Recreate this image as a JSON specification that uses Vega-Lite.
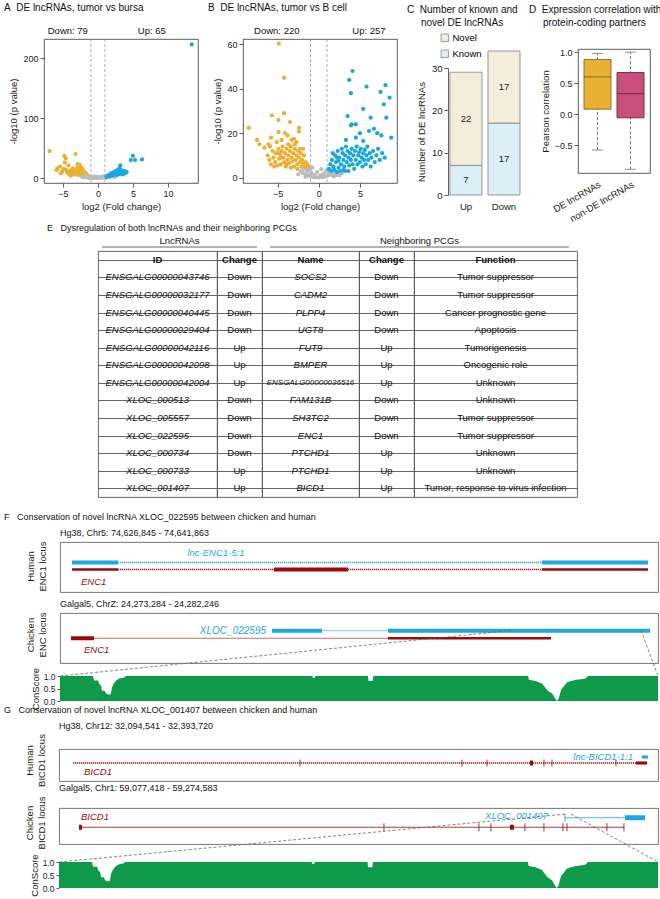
{
"$schema": "https://vega.github.io/schema/vega-lite/v6.json",
"background": "white",
"padding": {"left": 3, "top": 2, "right": 0, "bottom": 0},
"bounds": "flush",
"spacing": 0,
"resolve": {"scale": {"color": "independent", "fill": "independent", "stroke": "independent", "strokeWidth": "independent", "size": "independent"}},
"config": {
  "font": "Liberation Sans",
  "view": {"stroke": null},
  "axis": {"labelFont": "Liberation Sans", "titleFont": "Liberation Sans", "labelFontSize": 9, "titleFontSize": 9.5, "titleFontWeight": "normal", "labelColor": "#1a1a1a", "titleColor": "#1a1a1a", "tickColor": "#333", "domainColor": "#333", "tickSize": 4, "tickWidth": 0.8, "domainWidth": 0.8, "grid": false, "labelPadding": 2, "labelOverlap": false, "labelAngle": 0},
  "title": {"anchor": "start", "frame": "group", "font": "Liberation Sans", "fontSize": 10, "fontWeight": "normal", "color": "#111", "lineHeight": 13},
  "text": {"font": "Liberation Sans"},
  "legend": {"labelFont": "Liberation Sans"}
},
"datasets": {
  "volcA": [
    {"lfc":-6.9,"nlp":45,"status":"Down"},{"lfc":-4.8,"nlp":37,"status":"Down"},{"lfc":-3.2,"nlp":40,"status":"Down"},{"lfc":-4.6,"nlp":33,"status":"Down"},{"lfc":-4.7,"nlp":26,"status":"Down"},{"lfc":-4.2,"nlp":21,"status":"Down"},{"lfc":-2.9,"nlp":23,"status":"Down"},{"lfc":-2.6,"nlp":22,"status":"Down"},{"lfc":-5.4,"nlp":19,"status":"Down"},{"lfc":-2.4,"nlp":18,"status":"Down"},{"lfc":-3.0,"nlp":17,"status":"Down"},{"lfc":-2.2,"nlp":15,"status":"Down"},{"lfc":-3.6,"nlp":16,"status":"Down"},{"lfc":-4.9,"nlp":15,"status":"Down"},{"lfc":-5.8,"nlp":16,"status":"Down"},{"lfc":-4.0,"nlp":12,"status":"Down"},{"lfc":-3.3,"nlp":12,"status":"Down"},{"lfc":-2.7,"nlp":13,"status":"Down"},{"lfc":-2.1,"nlp":11,"status":"Down"},{"lfc":-1.8,"nlp":9,"status":"Down"},{"lfc":-3.8,"nlp":9,"status":"Down"},{"lfc":-4.4,"nlp":10,"status":"Down"},{"lfc":-5.1,"nlp":11,"status":"Down"},{"lfc":-2.5,"nlp":8,"status":"Down"},{"lfc":-3.1,"nlp":7,"status":"Down"},{"lfc":-1.6,"nlp":6,"status":"Down"},{"lfc":-2.0,"nlp":5,"status":"Down"},{"lfc":-1.4,"nlp":3,"status":"Down"},{"lfc":-4.6,"nlp":14,"status":"Down"},{"lfc":-3.5,"nlp":6,"status":"Down"},{"lfc":-2.8,"nlp":5,"status":"Down"},{"lfc":-1.5,"nlp":4,"status":"Down"},{"lfc":-2.3,"nlp":4,"status":"Down"},{"lfc":-5.9,"nlp":13,"status":"Down"},{"lfc":-3.9,"nlp":4,"status":"Down"},{"lfc":-2.6,"nlp":10,"status":"Down"},{"lfc":-3.4,"nlp":9,"status":"Down"},{"lfc":-1.9,"nlp":7,"status":"Down"},{"lfc":-2.9,"nlp":9,"status":"Down"},{"lfc":-4.2,"nlp":7,"status":"Down"},{"lfc":-5.3,"nlp":8,"status":"Down"},{"lfc":-3.7,"nlp":13,"status":"Down"},{"lfc":-2.4,"nlp":11,"status":"Down"},{"lfc":-1.7,"nlp":5,"status":"Down"},
    {"lfc":-1.9,"nlp":3,"status":"NS"},{"lfc":-1.5,"nlp":2.2,"status":"NS"},{"lfc":-1.2,"nlp":1.6,"status":"NS"},{"lfc":-0.9,"nlp":1.1,"status":"NS"},{"lfc":-0.6,"nlp":0.6,"status":"NS"},{"lfc":-0.3,"nlp":0.3,"status":"NS"},{"lfc":0,"nlp":0.1,"status":"NS"},{"lfc":0.3,"nlp":0.2,"status":"NS"},{"lfc":0.6,"nlp":0.6,"status":"NS"},{"lfc":0.9,"nlp":1,"status":"NS"},{"lfc":1.2,"nlp":1.5,"status":"NS"},{"lfc":1.5,"nlp":2,"status":"NS"},{"lfc":1.8,"nlp":2.6,"status":"NS"},{"lfc":2.1,"nlp":3,"status":"NS"},{"lfc":-1.7,"nlp":1,"status":"NS"},{"lfc":-1.3,"nlp":0.5,"status":"NS"},{"lfc":-0.8,"nlp":0.3,"status":"NS"},{"lfc":-0.4,"nlp":1.2,"status":"NS"},{"lfc":0.2,"nlp":0.8,"status":"NS"},{"lfc":0.5,"nlp":1.5,"status":"NS"},{"lfc":1.0,"nlp":2.4,"status":"NS"},{"lfc":1.4,"nlp":0.8,"status":"NS"},{"lfc":-1.0,"nlp":2.8,"status":"NS"},{"lfc":-0.2,"nlp":2,"status":"NS"},{"lfc":0.7,"nlp":2.8,"status":"NS"},{"lfc":1.6,"nlp":1.2,"status":"NS"},{"lfc":-2.2,"nlp":1.5,"status":"NS"},{"lfc":2.4,"nlp":1.8,"status":"NS"},{"lfc":-0.5,"nlp":2.5,"status":"NS"},{"lfc":0.1,"nlp":1.8,"status":"NS"},{"lfc":1.1,"nlp":0.4,"status":"NS"},{"lfc":-1.1,"nlp":0.2,"status":"NS"},
    {"lfc":13.4,"nlp":223,"status":"Up"},{"lfc":5.0,"nlp":37,"status":"Up"},{"lfc":4.7,"nlp":30,"status":"Up"},{"lfc":5.3,"nlp":30,"status":"Up"},{"lfc":6.3,"nlp":31,"status":"Up"},{"lfc":3.2,"nlp":21,"status":"Up"},{"lfc":3.1,"nlp":16,"status":"Up"},{"lfc":2.9,"nlp":14,"status":"Up"},{"lfc":3.3,"nlp":13,"status":"Up"},{"lfc":3.6,"nlp":12,"status":"Up"},{"lfc":3.9,"nlp":11,"status":"Up"},{"lfc":2.7,"nlp":11,"status":"Up"},{"lfc":3.0,"nlp":10,"status":"Up"},{"lfc":3.4,"nlp":9,"status":"Up"},{"lfc":2.4,"nlp":9,"status":"Up"},{"lfc":2.8,"nlp":8,"status":"Up"},{"lfc":3.8,"nlp":8,"status":"Up"},{"lfc":2.1,"nlp":7,"status":"Up"},{"lfc":2.5,"nlp":6,"status":"Up"},{"lfc":3.2,"nlp":7,"status":"Up"},{"lfc":1.8,"nlp":6,"status":"Up"},{"lfc":2.2,"nlp":5,"status":"Up"},{"lfc":1.6,"nlp":4,"status":"Up"},{"lfc":2.0,"nlp":4,"status":"Up"},{"lfc":1.3,"nlp":3,"status":"Up"},{"lfc":1.7,"nlp":3,"status":"Up"},{"lfc":2.7,"nlp":5,"status":"Up"},{"lfc":3.6,"nlp":6,"status":"Up"},{"lfc":4.0,"nlp":9,"status":"Up"},{"lfc":2.6,"nlp":12,"status":"Up"},{"lfc":2.3,"nlp":10,"status":"Up"},{"lfc":1.5,"nlp":5,"status":"Up"},{"lfc":1.2,"nlp":2,"status":"Up"},{"lfc":1.9,"nlp":8,"status":"Up"},{"lfc":3.5,"nlp":10,"status":"Up"},{"lfc":4.1,"nlp":10,"status":"Up"},{"lfc":2.9,"nlp":6,"status":"Up"},{"lfc":3.7,"nlp":9,"status":"Up"}
  ],
  "volcB": [
    {"lfc":-4.85,"nlp":60.3,"status":"Down"},{"lfc":-4.2,"nlp":45,"status":"Down"},{"lfc":-8.5,"nlp":22.4,"status":"Down"},{"lfc":-5.7,"nlp":28,"status":"Down"},{"lfc":-4.9,"nlp":26,"status":"Down"},{"lfc":-4.2,"nlp":29,"status":"Down"},{"lfc":-3.5,"nlp":25,"status":"Down"},{"lfc":-2.4,"nlp":22.5,"status":"Down"},{"lfc":-2.4,"nlp":20.8,"status":"Down"},{"lfc":-7.5,"nlp":17,"status":"Down"},{"lfc":-7.2,"nlp":15,"status":"Down"},{"lfc":-6.6,"nlp":13.5,"status":"Down"},{"lfc":-6.1,"nlp":15,"status":"Down"},{"lfc":-5.8,"nlp":18,"status":"Down"},{"lfc":-4.9,"nlp":20.5,"status":"Down"},{"lfc":-4.1,"nlp":20,"status":"Down"},{"lfc":-3.0,"nlp":17.5,"status":"Down"},{"lfc":-1.9,"nlp":13,"status":"Down"},{"lfc":-4.5,"nlp":17,"status":"Down"},{"lfc":-3.3,"nlp":17,"status":"Down"},{"lfc":-2.7,"nlp":16,"status":"Down"},{"lfc":-5.1,"nlp":16,"status":"Down"},{"lfc":-3.8,"nlp":19,"status":"Down"},
    {"lfc":-6.2,"nlp":10,"status":"Down"},{"lfc":-6.0,"nlp":8,"status":"Down"},{"lfc":-5.8,"nlp":6,"status":"Down"},{"lfc":-5.6,"nlp":12,"status":"Down"},{"lfc":-5.5,"nlp":9,"status":"Down"},{"lfc":-5.3,"nlp":7,"status":"Down"},{"lfc":-5.2,"nlp":11,"status":"Down"},{"lfc":-5.0,"nlp":5.5,"status":"Down"},{"lfc":-4.9,"nlp":13,"status":"Down"},{"lfc":-4.8,"nlp":8.5,"status":"Down"},{"lfc":-4.7,"nlp":10.5,"status":"Down"},{"lfc":-4.6,"nlp":6,"status":"Down"},{"lfc":-4.5,"nlp":12,"status":"Down"},{"lfc":-4.4,"nlp":14,"status":"Down"},{"lfc":-4.3,"nlp":9,"status":"Down"},{"lfc":-4.2,"nlp":7,"status":"Down"},{"lfc":-4.1,"nlp":11,"status":"Down"},{"lfc":-4.0,"nlp":5,"status":"Down"},{"lfc":-3.9,"nlp":13,"status":"Down"},{"lfc":-3.8,"nlp":8,"status":"Down"},{"lfc":-3.7,"nlp":10,"status":"Down"},{"lfc":-3.6,"nlp":6.5,"status":"Down"},{"lfc":-3.5,"nlp":12,"status":"Down"},{"lfc":-3.4,"nlp":14,"status":"Down"},{"lfc":-3.3,"nlp":9,"status":"Down"},{"lfc":-3.2,"nlp":7.5,"status":"Down"},{"lfc":-3.1,"nlp":11,"status":"Down"},{"lfc":-3.0,"nlp":5,"status":"Down"},{"lfc":-2.9,"nlp":13,"status":"Down"},{"lfc":-2.8,"nlp":8,"status":"Down"},{"lfc":-2.7,"nlp":10,"status":"Down"},{"lfc":-2.6,"nlp":6,"status":"Down"},{"lfc":-2.5,"nlp":12,"status":"Down"},{"lfc":-2.4,"nlp":9,"status":"Down"},{"lfc":-2.3,"nlp":7,"status":"Down"},{"lfc":-2.2,"nlp":11,"status":"Down"},{"lfc":-2.1,"nlp":5,"status":"Down"},{"lfc":-2.0,"nlp":8,"status":"Down"},{"lfc":-1.9,"nlp":6.5,"status":"Down"},{"lfc":-1.8,"nlp":10,"status":"Down"},{"lfc":-1.7,"nlp":5,"status":"Down"},{"lfc":-1.6,"nlp":7,"status":"Down"},{"lfc":-1.5,"nlp":4.5,"status":"Down"},{"lfc":-1.4,"nlp":6,"status":"Down"},{"lfc":-1.3,"nlp":4,"status":"Down"},{"lfc":-1.2,"nlp":5,"status":"Down"},{"lfc":-3.9,"nlp":6,"status":"Down"},{"lfc":-4.6,"nlp":9,"status":"Down"},{"lfc":-5.4,"nlp":5,"status":"Down"},{"lfc":-3.4,"nlp":4.5,"status":"Down"},{"lfc":-2.6,"nlp":4,"status":"Down"},{"lfc":-4.9,"nlp":11,"status":"Down"},{"lfc":-5.9,"nlp":14,"status":"Down"},{"lfc":-3.7,"nlp":15,"status":"Down"},{"lfc":-2.3,"nlp":13,"status":"Down"},{"lfc":-2.9,"nlp":15,"status":"Down"},
    {"lfc":-2.2,"nlp":3,"status":"NS"},{"lfc":-1.9,"nlp":2,"status":"NS"},{"lfc":-1.6,"nlp":1.5,"status":"NS"},{"lfc":-1.3,"nlp":1,"status":"NS"},{"lfc":-1.0,"nlp":0.5,"status":"NS"},{"lfc":-0.7,"nlp":0.3,"status":"NS"},{"lfc":-0.4,"nlp":0.2,"status":"NS"},{"lfc":0,"nlp":0.1,"status":"NS"},{"lfc":0.4,"nlp":0.2,"status":"NS"},{"lfc":0.7,"nlp":0.4,"status":"NS"},{"lfc":1.0,"nlp":0.8,"status":"NS"},{"lfc":1.3,"nlp":1.2,"status":"NS"},{"lfc":1.6,"nlp":1.5,"status":"NS"},{"lfc":1.9,"nlp":2,"status":"NS"},{"lfc":2.2,"nlp":1.2,"status":"NS"},{"lfc":2.5,"nlp":1,"status":"NS"},{"lfc":-1.8,"nlp":4,"status":"NS"},{"lfc":-1.4,"nlp":3,"status":"NS"},{"lfc":-0.9,"nlp":2,"status":"NS"},{"lfc":-0.5,"nlp":1.2,"status":"NS"},{"lfc":0.2,"nlp":1,"status":"NS"},{"lfc":0.6,"nlp":1.8,"status":"NS"},{"lfc":1.1,"nlp":2.5,"status":"NS"},{"lfc":-1.1,"nlp":3.5,"status":"NS"},{"lfc":-0.2,"nlp":2.5,"status":"NS"},{"lfc":0.9,"nlp":3.2,"status":"NS"},{"lfc":1.5,"nlp":4,"status":"NS"},{"lfc":-2.5,"nlp":1.5,"status":"NS"},{"lfc":2.8,"nlp":2,"status":"NS"},{"lfc":-0.8,"nlp":4.5,"status":"NS"},{"lfc":0.3,"nlp":3.8,"status":"NS"},{"lfc":1.8,"nlp":0.6,"status":"NS"},{"lfc":-1.6,"nlp":0.4,"status":"NS"},
    {"lfc":4.1,"nlp":48,"status":"Up"},{"lfc":3.7,"nlp":44,"status":"Up"},{"lfc":3.9,"nlp":38,"status":"Up"},{"lfc":5.8,"nlp":41,"status":"Up"},{"lfc":7.5,"nlp":38.6,"status":"Up"},{"lfc":8.1,"nlp":41.6,"status":"Up"},{"lfc":8.6,"nlp":36,"status":"Up"},{"lfc":7.9,"nlp":33,"status":"Up"},{"lfc":5.4,"nlp":31,"status":"Up"},{"lfc":6.3,"nlp":27,"status":"Up"},{"lfc":4.5,"nlp":24,"status":"Up"},{"lfc":4.0,"nlp":24,"status":"Up"},{"lfc":8.8,"nlp":18,"status":"Up"},{"lfc":7.6,"nlp":19,"status":"Up"},{"lfc":7.1,"nlp":20,"status":"Up"},{"lfc":6.1,"nlp":21,"status":"Up"},{"lfc":5.0,"nlp":20,"status":"Up"},{"lfc":3.5,"nlp":27.7,"status":"Up"},{"lfc":3.3,"nlp":17,"status":"Up"},{"lfc":4.5,"nlp":18,"status":"Up"},{"lfc":5.4,"nlp":16.5,"status":"Up"},{"lfc":3.9,"nlp":23.5,"status":"Up"},{"lfc":6.7,"nlp":22,"status":"Up"},{"lfc":8.2,"nlp":27,"status":"Up"},
    {"lfc":1.2,"nlp":4,"status":"Up"},{"lfc":1.4,"nlp":6,"status":"Up"},{"lfc":1.6,"nlp":8,"status":"Up"},{"lfc":1.8,"nlp":5,"status":"Up"},{"lfc":2.0,"nlp":10,"status":"Up"},{"lfc":2.1,"nlp":7,"status":"Up"},{"lfc":2.3,"nlp":12,"status":"Up"},{"lfc":2.4,"nlp":4.5,"status":"Up"},{"lfc":2.5,"nlp":9,"status":"Up"},{"lfc":2.7,"nlp":6,"status":"Up"},{"lfc":2.8,"nlp":13,"status":"Up"},{"lfc":2.9,"nlp":11,"status":"Up"},{"lfc":3.0,"nlp":8,"status":"Up"},{"lfc":3.1,"nlp":5,"status":"Up"},{"lfc":3.2,"nlp":10,"status":"Up"},{"lfc":3.3,"nlp":14,"status":"Up"},{"lfc":3.4,"nlp":7,"status":"Up"},{"lfc":3.5,"nlp":12,"status":"Up"},{"lfc":3.6,"nlp":9,"status":"Up"},{"lfc":3.7,"nlp":5.5,"status":"Up"},{"lfc":3.8,"nlp":11,"status":"Up"},{"lfc":3.9,"nlp":8,"status":"Up"},{"lfc":4.0,"nlp":13,"status":"Up"},{"lfc":4.1,"nlp":6,"status":"Up"},{"lfc":4.2,"nlp":10,"status":"Up"},{"lfc":4.3,"nlp":4,"status":"Up"},{"lfc":4.4,"nlp":12,"status":"Up"},{"lfc":4.5,"nlp":8,"status":"Up"},{"lfc":4.6,"nlp":14,"status":"Up"},{"lfc":4.7,"nlp":6,"status":"Up"},{"lfc":4.8,"nlp":10,"status":"Up"},{"lfc":4.9,"nlp":11.5,"status":"Up"},{"lfc":5.0,"nlp":7,"status":"Up"},{"lfc":5.1,"nlp":13,"status":"Up"},{"lfc":5.2,"nlp":9,"status":"Up"},{"lfc":5.3,"nlp":5,"status":"Up"},{"lfc":5.4,"nlp":11,"status":"Up"},{"lfc":5.5,"nlp":8,"status":"Up"},{"lfc":5.6,"nlp":12.5,"status":"Up"},{"lfc":5.7,"nlp":6,"status":"Up"},{"lfc":5.8,"nlp":10,"status":"Up"},{"lfc":5.9,"nlp":14,"status":"Up"},{"lfc":6.0,"nlp":8,"status":"Up"},{"lfc":6.2,"nlp":11,"status":"Up"},{"lfc":6.3,"nlp":5,"status":"Up"},{"lfc":6.4,"nlp":9,"status":"Up"},{"lfc":6.6,"nlp":12,"status":"Up"},{"lfc":6.8,"nlp":7,"status":"Up"},{"lfc":7.0,"nlp":10,"status":"Up"},{"lfc":7.2,"nlp":13,"status":"Up"},{"lfc":7.4,"nlp":8,"status":"Up"},{"lfc":7.7,"nlp":11,"status":"Up"},{"lfc":8.0,"nlp":9,"status":"Up"},{"lfc":1.5,"nlp":3,"status":"Up"},{"lfc":1.9,"nlp":3.5,"status":"Up"},{"lfc":2.2,"nlp":2.5,"status":"Up"},{"lfc":2.6,"nlp":3,"status":"Up"},{"lfc":3.0,"nlp":3.5,"status":"Up"},{"lfc":3.6,"nlp":3,"status":"Up"},{"lfc":2.4,"nlp":7.5,"status":"Up"},{"lfc":2.2,"nlp":9,"status":"Up"},{"lfc":1.7,"nlp":11,"status":"Up"},{"lfc":3.2,"nlp":3,"status":"Up"}
  ],
  "kn": [
    {"dir":"Up","type":"Known","n":7},{"dir":"Up","type":"Novel","n":22},
    {"dir":"Down","type":"Known","n":17},{"dir":"Down","type":"Novel","n":17}
  ],
  "corr": [
    {"grp":"DE lncRNAs","lower":-0.58,"q1":0.08,"median":0.6,"q3":0.88,"upper":0.98},
    {"grp":"non-DE lncRNAs","lower":-0.89,"q1":-0.06,"median":0.33,"q3":0.67,"upper":1.0}
  ],
  "tbl": [
    {"n":1,"id":"ENSGALG00000043746","lc":"Down","name":"SOCS2","pc":"Down","fn":"Tumor suppressor"},
    {"n":2,"id":"ENSGALG00000032177","lc":"Down","name":"CADM2","pc":"Down","fn":"Tumor suppressor"},
    {"n":3,"id":"ENSGALG00000040445","lc":"Down","name":"PLPP4","pc":"Down","fn":"Cancer prognostic gene"},
    {"n":4,"id":"ENSGALG00000029404","lc":"Down","name":"UGT8","pc":"Down","fn":"Apoptosis"},
    {"n":5,"id":"ENSGALG00000042116","lc":"Up","name":"FUT9","pc":"Up","fn":"Tumorigenesis"},
    {"n":6,"id":"ENSGALG00000042098","lc":"Up","name":"BMPER","pc":"Up","fn":"Oncogenic role"},
    {"n":7,"id":"ENSGALG00000042004","lc":"Up","name":"ENSGALG00000036516","pc":"Up","fn":"Unknown"},
    {"n":8,"id":"XLOC_000513","lc":"Down","name":"FAM131B","pc":"Down","fn":"Unknown"},
    {"n":9,"id":"XLOC_005557","lc":"Down","name":"SH3TC2","pc":"Down","fn":"Tumor suppressor"},
    {"n":10,"id":"XLOC_022595","lc":"Down","name":"ENC1","pc":"Down","fn":"Tumor suppressor"},
    {"n":11,"id":"XLOC_000734","lc":"Down","name":"PTCHD1","pc":"Up","fn":"Unknown"},
    {"n":12,"id":"XLOC_000733","lc":"Up","name":"PTCHD1","pc":"Up","fn":"Unknown"},
    {"n":13,"id":"XLOC_001407","lc":"Up","name":"BICD1","pc":"Up","fn":"Tumor, response to virus infection"}
  ],
  "fH": [
    {"track":"lnc","kind":"intron","start":74628044,"end":74639098},
    {"track":"pcg","kind":"intron","start":74628044,"end":74639098},
    {"track":"lnc","kind":"exon","start":74626845,"end":74628044},
    {"track":"lnc","kind":"exon","start":74639098,"end":74641863},
    {"track":"pcg","kind":"utr","start":74626845,"end":74628044},
    {"track":"pcg","kind":"exon","start":74632111,"end":74634040},
    {"track":"pcg","kind":"utr","start":74639098,"end":74641863}
  ],
  "fHL": [
    {"track":"lnc","label":"lnc-ENC1-5:1","at":74630599},
    {"track":"pcg","label":"ENC1","at":74627080}
  ],
  "fC": [
    {"track":"lnc","kind":"intron","start":24277169,"end":24278190},
    {"track":"pcg","kind":"intron","start":24273640,"end":24278190},
    {"track":"lnc","kind":"exon","start":24276395,"end":24277169},
    {"track":"lnc","kind":"exon","start":24278190,"end":24282246},
    {"track":"pcg","kind":"exon","start":24273284,"end":24273640},
    {"track":"pcg","kind":"utr","start":24278190,"end":24280714}
  ],
  "fCL": [
    {"track":"lnc","label":"XLOC_022595","at":24276303},
    {"track":"pcg","label":"ENC1","at":24273485}
  ],
  "fZ": [
    {"from":24280095,"to":24273114},
    {"from":24282108,"to":24282370}
  ],
  "gH": [
    {"track":"pcg","kind":"intron","start":32094541,"end":32393720},
    {"track":"pcg","kind":"tick","start":32212853,"end":32212853},
    {"track":"pcg","kind":"tick","start":32297288,"end":32297288},
    {"track":"pcg","kind":"tick","start":32310318,"end":32310318},
    {"track":"pcg","kind":"tick","start":32340026,"end":32340026},
    {"track":"pcg","kind":"tick","start":32344196,"end":32344196},
    {"track":"pcg","kind":"tick","start":32377552,"end":32377552},
    {"track":"pcg","kind":"exon","start":32332729,"end":32334293},
    {"track":"pcg","kind":"utr","start":32387987,"end":32393720},
    {"track":"lnc","kind":"utr","start":32391000,"end":32394200}
  ],
  "gHL": [
    {"track":"lnc","label":"lnc-BICD1-1:1","at":32386413},
    {"track":"pcg","label":"BICD1","at":32100274}
  ],
  "gC": [
    {"track":"pcg","kind":"intron","start":59077418,"end":59267241},
    {"track":"lnc","kind":"intron","start":59246692,"end":59267589},
    {"track":"pcg","kind":"exon","start":59077418,"end":59078463},
    {"track":"pcg","kind":"exon","start":59227535,"end":59228928},
    {"track":"pcg","kind":"tick","start":59183650,"end":59183650},
    {"track":"pcg","kind":"tick","start":59216738,"end":59216738},
    {"track":"pcg","kind":"tick","start":59220918,"end":59220918},
    {"track":"pcg","kind":"tick","start":59232760,"end":59232760},
    {"track":"pcg","kind":"tick","start":59239378,"end":59239378},
    {"track":"pcg","kind":"tick","start":59245995,"end":59245995},
    {"track":"pcg","kind":"tick","start":59247388,"end":59247388},
    {"track":"pcg","kind":"tick","start":59261320,"end":59261320},
    {"track":"pcg","kind":"tick","start":59267241,"end":59267241},
    {"track":"lnc","kind":"tick","start":59246692,"end":59246692},
    {"track":"lnc","kind":"exon","start":59267589,"end":59274583}
  ],
  "gCL": [
    {"track":"lnc","label":"XLOC_001407","at":59240765},
    {"track":"pcg","label":"BICD1","at":59078115}
  ],
  "gZ": [
    {"from":59246692,"to":59070452},
    {"from":59248782,"to":59279111}
  ],
  "cons": [
    {"p":0,"s":1},{"p":5.5,"s":1},{"p":5.7,"s":0.82},{"p":6.4,"s":0.82},{"p":6.5,"s":0.7},{"p":6.9,"s":0.6},{"p":7.0,"s":0.42},{"p":7.5,"s":0.4},{"p":7.7,"s":0.3},{"p":8.2,"s":0.25},{"p":8.5,"s":0.28},{"p":8.7,"s":0.55},{"p":9.0,"s":0.7},{"p":9.4,"s":0.82},{"p":9.9,"s":0.9},{"p":10.4,"s":0.92},{"p":10.9,"s":0.96},{"p":11.0,"s":1},
    {"p":42.2,"s":1},{"p":42.3,"s":0.92},{"p":42.6,"s":0.92},{"p":42.7,"s":1},
    {"p":51.5,"s":1},{"p":51.6,"s":0.8},{"p":52.3,"s":0.8},{"p":52.4,"s":1},
    {"p":78.3,"s":1},{"p":78.4,"s":0.85},{"p":79.5,"s":0.8},{"p":80.6,"s":0.7},{"p":81.1,"s":0.55},{"p":81.6,"s":0.4},{"p":82.3,"s":0.3},{"p":82.8,"s":0.1},{"p":83.1,"s":0},{"p":83.4,"s":0.1},{"p":83.8,"s":0.45},{"p":84.3,"s":0.6},{"p":84.8,"s":0.75},{"p":85.5,"s":0.8},{"p":86.3,"s":0.85},{"p":87.1,"s":0.87},{"p":87.9,"s":0.9},{"p":88.3,"s":1},{"p":100,"s":1}
  ]
},
"vconcat": [
  {
    "hconcat": [
      {
        "width": 154, "height": 144,
        "view": {"stroke": "#333", "strokeWidth": 0.8},
        "title": {"text": "A\u00a0\u00a0DE lncRNAs, tumor vs bursa", "dx": -40, "offset": 13},
        "layer": [
          {"data": {"values": [{}]}, "mark": {"type": "rule", "color": "#999", "strokeDash": [3, 2], "strokeWidth": 0.8}, "encoding": {"x": {"datum": -1}}},
          {"data": {"values": [{}]}, "mark": {"type": "rule", "color": "#999", "strokeDash": [3, 2], "strokeWidth": 0.8}, "encoding": {"x": {"datum": 1}}},
          {"data": {"name": "volcA"}, "mark": {"type": "circle", "size": 18, "opacity": 1},
           "encoding": {
             "x": {"field": "lfc", "type": "quantitative", "scale": {"domain": [-7.7, 14.3], "nice": false, "zero": false}, "axis": {"values": [-5, 0, 5, 10], "title": "log2 (Fold change)", "domain": false, "titlePadding": 3}},
             "y": {"field": "nlp", "type": "quantitative", "scale": {"domain": [-8.3, 232], "nice": false, "zero": false}, "axis": {"values": [0, 50, 100, 150, 200], "title": "-log10 (p value)", "domain": false, "titlePadding": 4}},
             "color": {"field": "status", "type": "nominal", "scale": {"domain": ["Down", "NS", "Up"], "range": ["#E9B031", "#BBBBBF", "#1CA6E0"]}, "legend": null}
           }},
          {"data": {"values": [{}]}, "mark": {"type": "text", "fontSize": 9.5, "color": "#111"}, "encoding": {"x": {"datum": -4.3}, "y": {"datum": 245}, "text": {"value": "Down: 79"}}},
          {"data": {"values": [{}]}, "mark": {"type": "text", "fontSize": 9.5, "color": "#111"}, "encoding": {"x": {"datum": 7.7}, "y": {"datum": 245}, "text": {"value": "Up: 65"}}}
        ]
      },
      {"width": 45, "height": 1, "data": {"values": []}, "mark": "point"},
      {
        "width": 154, "height": 144,
        "view": {"stroke": "#333", "strokeWidth": 0.8},
        "title": {"text": "B\u00a0\u00a0DE lncRNAs, tumor vs B cell", "dx": -35, "offset": 13},
        "layer": [
          {"data": {"values": [{}]}, "mark": {"type": "rule", "color": "#999", "strokeDash": [3, 2], "strokeWidth": 0.8}, "encoding": {"x": {"datum": -1}}},
          {"data": {"values": [{}]}, "mark": {"type": "rule", "color": "#999", "strokeDash": [3, 2], "strokeWidth": 0.8}, "encoding": {"x": {"datum": 1}}},
          {"data": {"name": "volcB"}, "mark": {"type": "circle", "size": 18, "opacity": 1},
           "encoding": {
             "x": {"field": "lfc", "type": "quantitative", "scale": {"domain": [-9.2, 9.5], "nice": false, "zero": false}, "axis": {"values": [-5, 0, 5], "title": "log2 (Fold change)", "domain": false, "titlePadding": 3}},
             "y": {"field": "nlp", "type": "quantitative", "scale": {"domain": [-2.4, 62.4], "nice": false, "zero": false}, "axis": {"values": [0, 10, 20, 30, 40, 50, 60], "title": "-log10 (p value)", "domain": false, "titlePadding": 4}},
             "color": {"field": "status", "type": "nominal", "scale": {"domain": ["Down", "NS", "Up"], "range": ["#E9B031", "#BBBBBF", "#1CA6E0"]}, "legend": null}
           }},
          {"data": {"values": [{}]}, "mark": {"type": "text", "fontSize": 9.5, "color": "#111"}, "encoding": {"x": {"datum": -5.1}, "y": {"datum": 66}, "text": {"value": "Down: 220"}}},
          {"data": {"values": [{}]}, "mark": {"type": "text", "fontSize": 9.5, "color": "#111"}, "encoding": {"x": {"datum": 6.1}, "y": {"datum": 66}, "text": {"value": "Up: 257"}}}
        ]
      },
      {"width": 51, "height": 1, "data": {"values": []}, "mark": "point"},
      {
        "width": 79, "height": 156,
        "title": {"text": ["C\u00a0\u00a0Number of known and", "\u200b\u00a0\u00a0\u00a0\u00a0\u00a0novel DE lncRNAs"], "dx": -41, "offset": 5},
        "data": {"name": "kn"},
        "transform": [
          {"stack": "n", "groupby": ["dir"], "sort": [{"field": "type", "order": "ascending"}], "as": ["y0", "y1"]},
          {"calculate": "(datum.y0 + datum.y1) / 2", "as": "mid"}
        ],
        "encoding": {
          "x": {"field": "dir", "type": "nominal", "sort": ["Up", "Down"], "scale": {"paddingInner": 0.158, "paddingOuter": 0.1185, "align": 0.222}, "axis": {"title": null, "domain": false, "ticks": false, "labelPadding": 6, "labelFontSize": 9.5}}
        },
        "layer": [
          {"mark": {"type": "bar", "stroke": "#8C8C8C", "strokeWidth": 0.9},
           "encoding": {
             "y": {"field": "y0", "type": "quantitative", "scale": {"domain": [0, 30], "range": [156, 29], "nice": false}, "axis": {"values": [0, 5, 10, 15, 20, 25, 30], "title": "Number of DE lncRNAs", "titlePadding": 5, "labelFontSize": 9.5}},
             "y2": {"field": "y1"},
             "color": {"field": "type", "type": "nominal", "scale": {"domain": ["Novel", "Known"], "range": ["#F3EEDC", "#DCEEF6"]},
               "legend": {"title": null, "orient": "none", "legendX": -8, "legendY": -6, "symbolType": "square", "symbolSize": 55, "symbolStrokeColor": "#888", "symbolStrokeWidth": 0.8, "labelFontSize": 9.5, "rowPadding": 4, "labelOffset": 3}}
           }},
          {"mark": {"type": "text", "fontSize": 9.5, "color": "#222"},
           "encoding": {"y": {"field": "mid", "type": "quantitative"}, "text": {"field": "n", "type": "quantitative"}}}
        ]
      },
      {"width": 51, "height": 1, "data": {"values": []}, "mark": "point"},
      {
        "vconcat": [
          {"width": 1, "height": 10, "data": {"values": []}, "mark": "point"},
          {
            "width": 72, "height": 124,
            "view": {"stroke": "#333", "strokeWidth": 0.8},
            "title": {"text": ["D\u00a0\u00a0Expression correlation with", "\u200b\u00a0\u00a0\u00a0\u00a0\u00a0protein-coding partners"], "dx": -49, "offset": 20},
            "data": {"name": "corr"},
            "encoding": {
              "x": {"field": "grp", "type": "nominal", "sort": ["DE lncRNAs", "non-DE lncRNAs"], "scale": {"paddingInner": 0, "paddingOuter": 0.09}, "axis": {"title": null, "labelAngle": -30, "ticks": false, "domain": false, "labelPadding": 6, "labelFontSize": 9.5}}
            },
            "layer": [
              {"mark": {"type": "rule", "strokeDash": [3, 2], "color": "#555", "strokeWidth": 0.8},
               "encoding": {"y": {"field": "lower", "type": "quantitative", "scale": {"domain": [-0.95, 1.05], "nice": false, "zero": false}, "axis": {"values": [-0.5, 0, 0.5, 1], "format": ".1f", "title": "Pearson correlation", "titlePadding": 4, "domain": false}}, "y2": {"field": "upper"}}},
              {"mark": {"type": "tick", "size": 11, "thickness": 0.9, "color": "#555"}, "encoding": {"y": {"field": "lower", "type": "quantitative"}}},
              {"mark": {"type": "tick", "size": 11, "thickness": 0.9, "color": "#555"}, "encoding": {"y": {"field": "upper", "type": "quantitative"}}},
              {"mark": {"type": "bar", "size": 27, "strokeWidth": 0.9},
               "encoding": {"y": {"field": "q1", "type": "quantitative"}, "y2": {"field": "q3"},
                 "fill": {"field": "grp", "type": "nominal", "scale": {"domain": ["DE lncRNAs", "non-DE lncRNAs"], "range": ["#E9B133", "#C94F7D"]}, "legend": null},
                 "stroke": {"field": "grp", "type": "nominal", "scale": {"domain": ["DE lncRNAs", "non-DE lncRNAs"], "range": ["#8A6A1C", "#6E2141"]}, "legend": null}}},
              {"mark": {"type": "tick", "size": 27, "thickness": 1.1},
               "encoding": {"y": {"field": "median", "type": "quantitative"}, "color": {"field": "grp", "type": "nominal", "scale": {"domain": ["DE lncRNAs", "non-DE lncRNAs"], "range": ["#6B5016", "#5A1A35"]}, "legend": null}}}
            ]
          }
        ],
        "spacing": 0, "bounds": "flush"
      }
    ],
    "spacing": 0, "bounds": "flush",
    "resolve": {"scale": {"color": "independent", "fill": "independent", "stroke": "independent"}}
  },
  {"width": 1, "height": 196, "data": {"values": []}, "mark": "point"},
  {
    "title": {"text": "E\u00a0\u00a0\u00a0Dysregulation of both lncRNAs and their neighboring PCGs", "fontSize": 9, "dx": 3, "offset": 2},
    "vconcat": [
      {
        "hconcat": [
          {"width": 58, "height": 1, "data": {"values": []}, "mark": "point"},
          {"width": 155, "height": 12, "data": {"values": [{}]},
           "layer": [
             {"mark": {"type": "text", "fontSize": 9.5, "color": "#111"}, "encoding": {"text": {"value": "LncRNAs"}}},
             {"mark": {"type": "rule", "color": "#555", "strokeWidth": 0.9}, "encoding": {"y": {"datum": 0, "type": "quantitative", "scale": {"domain": [0, 1]}, "axis": null}}}
           ]},
          {"width": 13, "height": 1, "data": {"values": []}, "mark": "point"},
          {"width": 299, "height": 12, "data": {"values": [{}]},
           "layer": [
             {"mark": {"type": "text", "fontSize": 9.5, "color": "#111"}, "encoding": {"text": {"value": "Neighboring PCGs"}}},
             {"mark": {"type": "rule", "color": "#555", "strokeWidth": 0.9}, "encoding": {"y": {"datum": 0, "type": "quantitative", "scale": {"domain": [0, 1]}, "axis": null}}}
           ]}
        ],
        "spacing": 0, "bounds": "flush"
      },
      {"width": 1, "height": 16, "data": {"values": []}, "mark": "point"},
      {
        "hconcat": [
          {"width": 54, "height": 1, "data": {"values": []}, "mark": "point"},
          {"width": 119, "height": 246, "view": {"stroke": "#555", "strokeWidth": 0.9},
           "layer": [
             {"data": {"name": "tbl"}, "mark": {"type": "text", "fontSize": 9.5, "fontStyle": "italic", "color": "#111"},
              "encoding": {"y": {"field": "n", "type": "ordinal", "scale": {"domain": [0,1,2,3,4,5,6,7,8,9,10,11,12,13], "paddingInner": 0, "paddingOuter": 0}, "axis": {"grid": true, "bandPosition": 0, "gridColor": "#555", "gridWidth": 0.9, "labels": false, "ticks": false, "domain": false, "title": null}}, "text": {"field": "id"}}},
             {"data": {"values": [{}]}, "mark": {"type": "text", "fontSize": 9.5, "fontWeight": "bold", "color": "#111"}, "encoding": {"y": {"datum": 0, "type": "ordinal"}, "text": {"value": "ID"}}}
           ]},
          {"width": 45, "height": 246, "view": {"stroke": "#555", "strokeWidth": 0.9},
           "layer": [
             {"data": {"name": "tbl"}, "mark": {"type": "text", "fontSize": 9.5, "color": "#111"},
              "encoding": {"y": {"field": "n", "type": "ordinal", "scale": {"domain": [0,1,2,3,4,5,6,7,8,9,10,11,12,13], "paddingInner": 0, "paddingOuter": 0}, "axis": {"grid": true, "bandPosition": 0, "gridColor": "#555", "gridWidth": 0.9, "labels": false, "ticks": false, "domain": false, "title": null}}, "text": {"field": "lc"}}},
             {"data": {"values": [{}]}, "mark": {"type": "text", "fontSize": 9.5, "fontWeight": "bold", "color": "#111"}, "encoding": {"y": {"datum": 0, "type": "ordinal"}, "text": {"value": "Change"}}}
           ]},
          {"width": 97, "height": 246, "view": {"stroke": "#555", "strokeWidth": 0.9},
           "layer": [
             {"data": {"name": "tbl"}, "mark": {"type": "text", "fontStyle": "italic", "color": "#111"},
              "encoding": {"y": {"field": "n", "type": "ordinal", "scale": {"domain": [0,1,2,3,4,5,6,7,8,9,10,11,12,13], "paddingInner": 0, "paddingOuter": 0}, "axis": {"grid": true, "bandPosition": 0, "gridColor": "#555", "gridWidth": 0.9, "labels": false, "ticks": false, "domain": false, "title": null}}, "text": {"field": "name"},
                "size": {"condition": {"test": "length(datum.name) > 12", "value": 8}, "value": 9.5}}},
             {"data": {"values": [{}]}, "mark": {"type": "text", "fontSize": 9.5, "fontWeight": "bold", "color": "#111"}, "encoding": {"y": {"datum": 0, "type": "ordinal"}, "text": {"value": "Name"}}}
           ]},
          {"width": 55, "height": 246, "view": {"stroke": "#555", "strokeWidth": 0.9},
           "layer": [
             {"data": {"name": "tbl"}, "mark": {"type": "text", "fontSize": 9.5, "color": "#111"},
              "encoding": {"y": {"field": "n", "type": "ordinal", "scale": {"domain": [0,1,2,3,4,5,6,7,8,9,10,11,12,13], "paddingInner": 0, "paddingOuter": 0}, "axis": {"grid": true, "bandPosition": 0, "gridColor": "#555", "gridWidth": 0.9, "labels": false, "ticks": false, "domain": false, "title": null}}, "text": {"field": "pc"}}},
             {"data": {"values": [{}]}, "mark": {"type": "text", "fontSize": 9.5, "fontWeight": "bold", "color": "#111"}, "encoding": {"y": {"datum": 0, "type": "ordinal"}, "text": {"value": "Change"}}}
           ]},
          {"width": 163, "height": 246, "view": {"stroke": "#555", "strokeWidth": 0.9},
           "layer": [
             {"data": {"name": "tbl"}, "mark": {"type": "text", "fontSize": 9.5, "color": "#111"},
              "encoding": {"y": {"field": "n", "type": "ordinal", "scale": {"domain": [0,1,2,3,4,5,6,7,8,9,10,11,12,13], "paddingInner": 0, "paddingOuter": 0}, "axis": {"grid": true, "bandPosition": 0, "gridColor": "#555", "gridWidth": 0.9, "labels": false, "ticks": false, "domain": false, "title": null}}, "text": {"field": "fn"}}},
             {"data": {"values": [{}]}, "mark": {"type": "text", "fontSize": 9.5, "fontWeight": "bold", "color": "#111"}, "encoding": {"y": {"datum": 0, "type": "ordinal"}, "text": {"value": "Function"}}}
           ]}
        ],
        "spacing": 0, "bounds": "flush"
      }
    ],
    "spacing": 0, "bounds": "flush"
  },
  {"width": 1, "height": 307, "data": {"values": []}, "mark": "point"},
  {
    "title": {"text": "F\u00a0\u00a0\u00a0Conservation of novel lncRNA XLOC_022595 between chicken and human", "fontSize": 9, "dx": -40, "offset": 6},
    "hconcat": [
      {"width": 16, "height": 1, "data": {"values": []}, "mark": "point"},
      {
        "vconcat": [
          {
            "width": 598, "height": 50,
            "view": {"stroke": "#666", "strokeWidth": 0.9},
            "title": {"text": "Hg38, Chr5: 74,626,845 - 74,641,863", "fontSize": 9, "offset": 3},
            "layer": [
              {"data": {"name": "fH"}, "transform": [{"filter": "datum.kind == 'intron'"}],
               "mark": {"type": "rule", "strokeWidth": 1.6, "strokeDash": [1.2, 0.8]},
               "encoding": {
                 "x": {"field": "start", "type": "quantitative", "scale": {"domain": [74626532, 74642124], "nice": false, "zero": false}, "axis": null},
                 "x2": {"field": "end"},
                 "y": {"field": "track", "type": "nominal", "scale": {"type": "point", "domain": ["lnc", "pcg"], "range": [17, 31]}, "axis": {"title": ["Human", "ENC1 locus"], "labels": false, "ticks": false, "domain": false, "titlePadding": 13}},
                 "color": {"field": "track", "type": "nominal", "scale": {"domain": ["lnc", "pcg"], "range": ["#1EA7E1", "#9C0A0A"]}, "legend": null}
               }},
              {"data": {"name": "fH"}, "transform": [{"filter": "datum.kind != 'intron'"}],
               "mark": {"type": "rule"},
               "encoding": {
                 "x": {"field": "start", "type": "quantitative"}, "x2": {"field": "end"},
                 "y": {"field": "track", "type": "nominal"},
                 "color": {"field": "track", "type": "nominal"},
                 "strokeWidth": {"field": "kind", "type": "ordinal", "scale": {"domain": ["intron", "utr", "exon"], "range": [1.2, 4, 7]}, "legend": null}
               }},
              {"data": {"name": "fHL"}, "transform": [{"filter": "datum.track == 'lnc'"}],
               "mark": {"type": "text", "fontStyle": "italic", "fontSize": 9.5, "dy": -10, "align": "center"},
               "encoding": {"x": {"field": "at", "type": "quantitative"}, "y": {"field": "track", "type": "nominal"}, "text": {"field": "label"}, "color": {"field": "track", "type": "nominal"}}},
              {"data": {"name": "fHL"}, "transform": [{"filter": "datum.track == 'pcg'"}],
               "mark": {"type": "text", "fontStyle": "italic", "fontSize": 9.5, "dy": 12, "align": "left"},
               "encoding": {"x": {"field": "at", "type": "quantitative"}, "y": {"field": "track", "type": "nominal"}, "text": {"field": "label"}, "color": {"field": "track", "type": "nominal"}}}
            ]
          },
          {"width": 1, "height": 21, "data": {"values": []}, "mark": "point"},
          {
            "width": 598, "height": 50,
            "view": {"stroke": "#666", "strokeWidth": 0.9},
            "title": {"text": "Galgal5, ChrZ: 24,273,284 - 24,282,246", "fontSize": 9, "offset": 3},
            "resolve": {"scale": {"y": "independent"}},
            "layer": [
              {"layer": [
                {"data": {"name": "fC"}, "transform": [{"filter": "datum.kind == 'intron'"}],
                 "mark": {"type": "rule", "strokeWidth": 1.2, "opacity": 0.6},
                 "encoding": {
                   "x": {"field": "start", "type": "quantitative", "scale": {"domain": [24273114, 24282370], "nice": false, "zero": false}, "axis": null},
                   "x2": {"field": "end"},
                   "y": {"field": "track", "type": "nominal", "scale": {"type": "point", "domain": ["lnc", "pcg"], "range": [14, 29]}, "axis": {"title": ["Chicken", "ENC locus"], "labels": false, "ticks": false, "domain": false, "titlePadding": 13}},
                   "color": {"field": "track", "type": "nominal", "scale": {"domain": ["lnc", "pcg"], "range": ["#1EA7E1", "#9C0A0A"]}, "legend": null}
                 }},
                {"data": {"name": "fC"}, "transform": [{"filter": "datum.kind != 'intron'"}],
                 "mark": {"type": "rule"},
                 "encoding": {
                   "x": {"field": "start", "type": "quantitative"}, "x2": {"field": "end"},
                   "y": {"field": "track", "type": "nominal"},
                   "color": {"field": "track", "type": "nominal"},
                   "strokeWidth": {"field": "kind", "type": "ordinal", "scale": {"domain": ["intron", "utr", "exon"], "range": [1.2, 4.5, 7]}, "legend": null}
                 }},
                {"data": {"name": "fCL"}, "transform": [{"filter": "datum.track == 'lnc'"}],
                 "mark": {"type": "text", "fontStyle": "italic", "fontSize": 10, "dy": 0, "align": "right"},
                 "encoding": {"x": {"field": "at", "type": "quantitative"}, "y": {"field": "track", "type": "nominal"}, "text": {"field": "label"}, "color": {"field": "track", "type": "nominal"}}},
                {"data": {"name": "fCL"}, "transform": [{"filter": "datum.track == 'pcg'"}],
                 "mark": {"type": "text", "fontStyle": "italic", "fontSize": 9.5, "dy": 12, "align": "left"},
                 "encoding": {"x": {"field": "at", "type": "quantitative"}, "y": {"field": "track", "type": "nominal"}, "text": {"field": "label"}, "color": {"field": "track", "type": "nominal"}}}
              ]},
              {"data": {"name": "fZ"},
               "mark": {"type": "rule", "strokeDash": [3, 2], "color": "#666", "strokeWidth": 0.8},
               "encoding": {"x": {"field": "from", "type": "quantitative"}, "x2": {"field": "to"}, "y": {"datum": 0.65, "type": "quantitative", "scale": {"domain": [0, 1]}, "axis": null}, "y2": {"datum": -0.26}}}
            ]
          },
          {"width": 1, "height": 13, "data": {"values": []}, "mark": "point"},
          {
            "width": 598, "height": 25,
            "data": {"name": "cons"},
            "mark": {"type": "area", "color": "#0F9A4A", "interpolate": "linear"},
            "encoding": {
              "x": {"field": "p", "type": "quantitative", "scale": {"domain": [0, 100], "nice": false}, "axis": null},
              "y": {"field": "s", "type": "quantitative", "scale": {"domain": [0, 1], "nice": false}, "axis": {"values": [0, 0.5, 1], "format": ".1f", "title": "ConScore", "tickSize": 3, "domain": false, "labelFontSize": 8.5, "titlePadding": 3}}
            }
          }
        ],
        "spacing": 0, "bounds": "flush"
      }
    ],
    "spacing": 0, "bounds": "flush"
  },
  {"width": 1, "height": 207, "data": {"values": []}, "mark": "point"},
  {
    "title": {"text": "G\u00a0\u00a0\u00a0Conservation of novel lncRNA XLOC_001407 between chicken and human", "fontSize": 9, "dx": -40, "offset": 6},
    "hconcat": [
      {"width": 15, "height": 1, "data": {"values": []}, "mark": "point"},
      {
        "vconcat": [
          {
            "width": 599, "height": 32,
            "view": {"stroke": "#666", "strokeWidth": 0.9},
            "title": {"text": "Hg38, Chr12: 32,094,541 - 32,393,720", "fontSize": 9, "offset": 3},
            "layer": [
              {"data": {"name": "gH"}, "transform": [{"filter": "datum.kind == 'intron'"}],
               "mark": {"type": "rule", "strokeWidth": 1.4, "strokeDash": [1.2, 0.8]},
               "encoding": {
                 "x": {"field": "start", "type": "quantitative", "scale": {"domain": [32087244, 32399451], "nice": false, "zero": false}, "axis": null},
                 "x2": {"field": "end"},
                 "y": {"field": "track", "type": "nominal", "scale": {"type": "point", "domain": ["lnc", "pcg"], "range": [5, 17]}, "axis": {"title": ["Human", "BICD1 locus"], "labels": false, "ticks": false, "domain": false, "titlePadding": 13}},
                 "color": {"field": "track", "type": "nominal", "scale": {"domain": ["lnc", "pcg"], "range": ["#1EA7E1", "#9C0A0A"]}, "legend": null}
               }},
              {"data": {"name": "gH"}, "transform": [{"filter": "datum.kind == 'exon' || datum.kind == 'utr'"}],
               "mark": {"type": "rule"},
               "encoding": {
                 "x": {"field": "start", "type": "quantitative"}, "x2": {"field": "end"},
                 "y": {"field": "track", "type": "nominal"},
                 "color": {"field": "track", "type": "nominal"},
                 "strokeWidth": {"field": "kind", "type": "ordinal", "scale": {"domain": ["intron", "utr", "exon"], "range": [1.2, 5, 7]}, "legend": null}
               }},
              {"data": {"name": "gH"}, "transform": [{"filter": "datum.kind == 'tick'"}],
               "mark": {"type": "tick", "orient": "vertical", "size": 7, "thickness": 1.2},
               "encoding": {"x": {"field": "start", "type": "quantitative"}, "y": {"field": "track", "type": "nominal"}, "color": {"field": "track", "type": "nominal"}}},
              {"data": {"name": "gHL"}, "transform": [{"filter": "datum.track == 'lnc'"}],
               "mark": {"type": "text", "fontStyle": "italic", "fontSize": 9.5, "dy": 0, "align": "right"},
               "encoding": {"x": {"field": "at", "type": "quantitative"}, "y": {"field": "track", "type": "nominal"}, "text": {"field": "label"}, "color": {"field": "track", "type": "nominal"}}},
              {"data": {"name": "gHL"}, "transform": [{"filter": "datum.track == 'pcg'"}],
               "mark": {"type": "text", "fontStyle": "italic", "fontSize": 9.5, "dy": 9, "align": "left"},
               "encoding": {"x": {"field": "at", "type": "quantitative"}, "y": {"field": "track", "type": "nominal"}, "text": {"field": "label"}, "color": {"field": "track", "type": "nominal"}}}
            ]
          },
          {"width": 1, "height": 27, "data": {"values": []}, "mark": "point"},
          {
            "width": 599, "height": 36,
            "view": {"stroke": "#666", "strokeWidth": 0.9},
            "title": {"text": "Galgal5, Chr1: 59,077,418 - 59,274,583", "fontSize": 9, "offset": 3},
            "resolve": {"scale": {"y": "independent"}},
            "layer": [
              {"layer": [
                {"data": {"name": "gC"}, "transform": [{"filter": "datum.kind == 'intron'"}],
                 "mark": {"type": "rule", "strokeWidth": 1.2, "opacity": 0.8},
                 "encoding": {
                   "x": {"field": "start", "type": "quantitative", "scale": {"domain": [59070452, 59279111], "nice": false, "zero": false}, "axis": null},
                   "x2": {"field": "end"},
                   "y": {"field": "track", "type": "nominal", "scale": {"type": "point", "domain": ["lnc", "pcg"], "range": [5, 24]}, "axis": {"title": ["Chicken", "BICD1 locus"], "labels": false, "ticks": false, "domain": false, "titlePadding": 13}},
                   "color": {"field": "track", "type": "nominal", "scale": {"domain": ["lnc", "pcg"], "range": ["#1EA7E1", "#9C0A0A"]}, "legend": null}
                 }},
                {"data": {"name": "gC"}, "transform": [{"filter": "datum.kind == 'exon' || datum.kind == 'utr'"}],
                 "mark": {"type": "rule"},
                 "encoding": {
                   "x": {"field": "start", "type": "quantitative"}, "x2": {"field": "end"},
                   "y": {"field": "track", "type": "nominal"},
                   "color": {"field": "track", "type": "nominal"},
                   "strokeWidth": {"field": "kind", "type": "ordinal", "scale": {"domain": ["intron", "utr", "exon"], "range": [1.2, 5, 8]}, "legend": null}
                 }},
                {"data": {"name": "gC"}, "transform": [{"filter": "datum.kind == 'tick'"}],
                 "mark": {"type": "tick", "orient": "vertical", "size": 8, "thickness": 1.2},
                 "encoding": {"x": {"field": "start", "type": "quantitative"}, "y": {"field": "track", "type": "nominal"}, "color": {"field": "track", "type": "nominal"}}},
                {"data": {"name": "gCL"}, "transform": [{"filter": "datum.track == 'lnc'"}],
                 "mark": {"type": "text", "fontStyle": "italic", "fontSize": 9.5, "dy": -2, "align": "right"},
                 "encoding": {"x": {"field": "at", "type": "quantitative"}, "y": {"field": "track", "type": "nominal"}, "text": {"field": "label"}, "color": {"field": "track", "type": "nominal"}}},
                {"data": {"name": "gCL"}, "transform": [{"filter": "datum.track == 'pcg'"}],
                 "mark": {"type": "text", "fontStyle": "italic", "fontSize": 9.5, "dy": -10, "align": "left"},
                 "encoding": {"x": {"field": "at", "type": "quantitative"}, "y": {"field": "track", "type": "nominal"}, "text": {"field": "label"}, "color": {"field": "track", "type": "nominal"}}}
              ]},
              {"data": {"name": "gZ"},
               "mark": {"type": "rule", "strokeDash": [3, 2], "color": "#666", "strokeWidth": 0.8},
               "encoding": {"x": {"field": "from", "type": "quantitative"}, "x2": {"field": "to"}, "y": {"datum": 0.83, "type": "quantitative", "scale": {"domain": [0, 1]}, "axis": null}, "y2": {"datum": -0.5}}}
            ]
          },
          {"width": 1, "height": 18, "data": {"values": []}, "mark": "point"},
          {
            "width": 599, "height": 26,
            "data": {"name": "cons"},
            "mark": {"type": "area", "color": "#0F9A4A", "interpolate": "linear"},
            "encoding": {
              "x": {"field": "p", "type": "quantitative", "scale": {"domain": [0, 100], "nice": false}, "axis": null},
              "y": {"field": "s", "type": "quantitative", "scale": {"domain": [0, 1], "nice": false}, "axis": {"values": [0, 0.5, 1], "format": ".1f", "title": "ConScore", "tickSize": 3, "domain": false, "labelFontSize": 8.5, "titlePadding": 3}}
            }
          }
        ],
        "spacing": 0, "bounds": "flush"
      }
    ],
    "spacing": 0, "bounds": "flush"
  }
]
}
